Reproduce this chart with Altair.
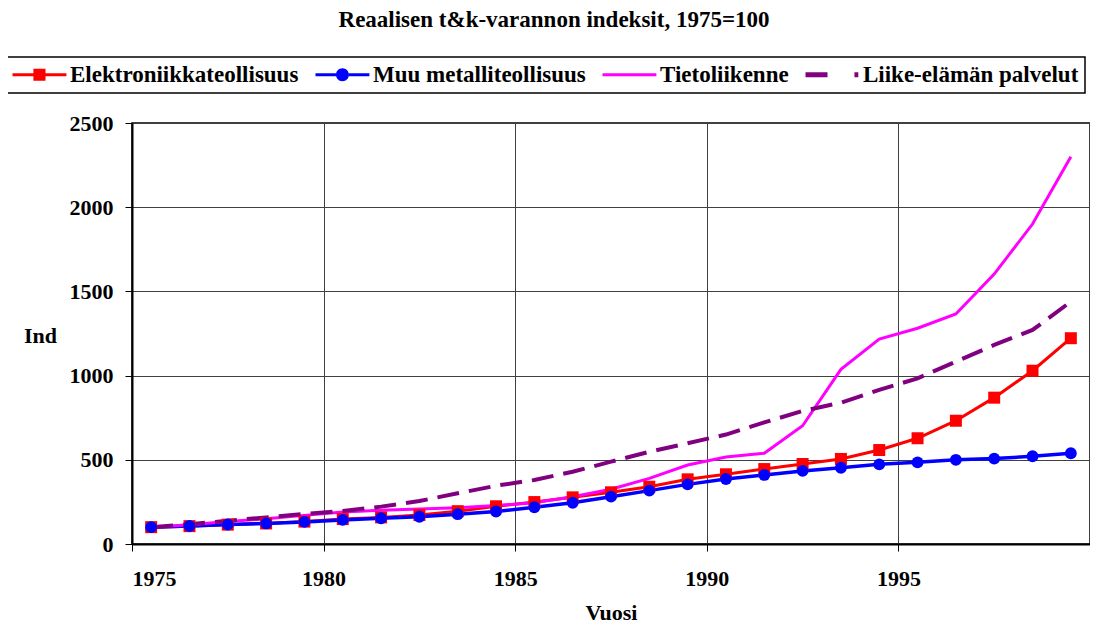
import altair as alt
import pandas as pd

years = list(range(1975, 2000))
elektroniikka = [100, 106, 115, 122, 133, 148, 158, 172, 195, 224, 249, 277, 307, 340, 384,
                 414, 445, 475, 505, 558, 628, 732, 869, 1029, 1222]
muu_metalli = [100, 107, 116, 122, 131, 143, 153, 162, 177, 193, 218, 245, 281, 317, 354,
               386, 410, 434, 453, 473, 485, 500, 507, 521, 539]
tietoliikenne = [100, 115, 133, 150, 170, 190, 200, 208, 216, 228, 245, 281, 325, 390, 469,
                 517, 539, 702, 1037, 1217, 1281, 1366, 1603, 1900, 2300]
liike_elama = [100, 118, 138, 158, 178, 196, 222, 255, 301, 346, 380, 429, 489, 548, 598,
               650, 722, 790, 839, 915, 984, 1083, 1182, 1271, 1439]

names = ["Elektroniikkateollisuus", "Muu metalliteollisuus", "Tietoliikenne", "Liike-elämän palvelut"]
colors = ["#ff0000", "#0000ff", "#ff00ff", "#800080"]
series_values = [elektroniikka, muu_metalli, tietoliikenne, liike_elama]

rows = []
for name, vals in zip(names, series_values):
    for yr, v in zip(years, vals):
        rows.append({"year": yr, "series": name, "value": v})
df = pd.DataFrame(rows)

FONT = "Liberation Serif"

# legend symbols (line + marker), unit = 11px, drawn rightwards from the symbol box
legend_paths = [
    "M-1,-0.14H0.9V0.14H-1Z M2.0,-0.14H3.9V0.14H2.0Z M0.9,-0.55H2.0V0.55H0.9Z",
    "M-1,-0.14H0.86V0.14H-1Z M2.04,-0.14H3.9V0.14H2.04Z "
    "M0.86,0A0.59,0.59 0 1,1 2.04,0A0.59,0.59 0 1,1 0.86,0Z",
    "M-1,-0.14H3.9V0.14H-1Z",
    "M-1,-0.23H1.0V0.23H-1Z M3.45,-0.23H3.8V0.23H3.45Z",
]

base = alt.Chart(df).transform_calculate(xpos="datum.year + 0.5")

x_enc = alt.X("xpos:Q", scale=alt.Scale(domain=[1975, 2000], nice=False, zero=False),
              axis=alt.Axis(values=[1975, 1980, 1985, 1990, 1995, 2000], format="d",
                            labelExpr="datum.value == 2000 ? '' : datum.label",
                            title="Vuosi", titleY=68, titleBaseline="middle",
                            labelPadding=17))
y_enc = alt.Y("value:Q", scale=alt.Scale(domain=[0, 2500], nice=False),
              axis=alt.Axis(values=[0, 500, 1000, 1500, 2000, 2500], format="d", title="Ind",
                            titleAngle=0, titleX=-92, titleY=212, titleAlign="center",
                            titleBaseline="middle", labelPadding=12))

def line_layer(name, color, width, dash=None):
    kw = dict(color=color, strokeWidth=width, strokeCap="butt")
    if dash:
        kw["strokeDash"] = dash
    return base.transform_filter(alt.datum.series == name).mark_line(**kw).encode(
        x=x_enc, y=y_enc)

l_red = line_layer(names[0], colors[0], 3)
l_blue = line_layer(names[1], colors[1], 3.5)
l_mag = line_layer(names[2], colors[2], 3)
l_pur = line_layer(names[3], colors[3], 4, [22, 10])

p_red = base.transform_filter(alt.datum.series == names[0]).mark_square(
    color=colors[0], size=144, opacity=1).encode(x=x_enc, y=y_enc)
p_blue = base.transform_filter(alt.datum.series == names[1]).mark_circle(
    color=colors[1], size=140, opacity=1).encode(x=x_enc, y=y_enc)

legend_layer = base.transform_filter("false").mark_point(filled=True, opacity=1).encode(
    x=x_enc, y=y_enc,
    color=alt.Color("series:N", scale=alt.Scale(domain=names, range=colors), title=None),
    shape=alt.Shape("series:N", scale=alt.Scale(domain=names, range=legend_paths), title=None),
)

chart = alt.layer(l_red, l_blue, l_mag, l_pur, p_red, p_blue, legend_layer).properties(
    width=958, height=421,
    title=alt.TitleParams("Reaalisen t&k-varannon indeksit, 1975=100", font=FONT,
                          fontSize=23, fontWeight="bold", color="black",
                          anchor="middle", dx=-57, offset=24),
    autosize=alt.AutoSizeParams(type="none"),
    padding={"left": 124, "top": 115, "right": 0, "bottom": 80},
    background="white",
).configure_axis(
    labelFont=FONT, labelFontSize=22, labelFontWeight="bold", labelColor="black",
    titleFont=FONT, titleFontSize=22, titleFontWeight="bold", titleColor="black",
    tickColor="black", tickSize=7, tickWidth=1, domainColor="black", domainWidth=2,
    gridColor="#404040", gridWidth=1, gridOpacity=1,
).configure_view(
    stroke="black", strokeWidth=1.5,
).configure_legend(
    orient="none", legendX=-126, legendY=-66, direction="horizontal",
    labelFont=FONT, labelFontSize=23, labelFontWeight="bold", labelColor="black",
    labelLimit=500, symbolSize=484, symbolStrokeWidth=0, labelOffset=35,
    columnPadding=16, strokeColor="black", strokeWidth=1.5, padding=6, fillColor="white",
)

chart.save("out.html", embed_options={"renderer": "svg", "actions": False})
